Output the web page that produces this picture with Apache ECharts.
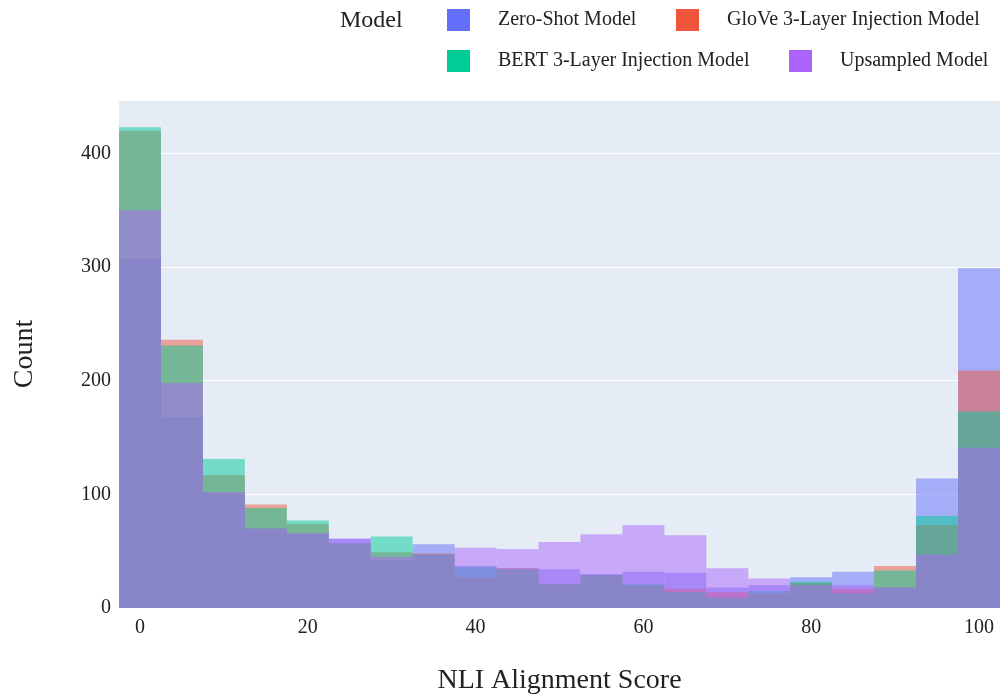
<!DOCTYPE html>
<html>
<head>
<meta charset="utf-8">
<script src="https://cdn.jsdelivr.net/npm/echarts@6/dist/echarts.min.js"></script>
<style>html,body{margin:0;padding:0;background:#fff;}#c{width:1000px;height:700px;}</style>
</head>
<body>
<div id="c"></div>
<script>
const categories = ['0','5','10','15','20','25','30','35','40','45','50','55','60','65','70','75','80','85','90','95','100'];
const zeroShot  = [307,168,101,70,65,61,42,56,37,35,34,30,32,31,18,20,27,32,18,114,299];
const glove     = [420,236,117,91,74,57,49,48,27,35,21,29,20,17,14,13,22,17,37,73,209];
const bert      = [423,231,131,88,77,57,63,47,36,34,21,29,21,14,9,15,23,13,33,81,173];
const upsampled = [350,198,102,70,66,61,45,47,53,52,58,65,73,64,35,26,20,20,18,47,141];
const seriesNames = ['Zero-Shot Model','GloVe 3-Layer Injection Model','BERT 3-Layer Injection Model','Upsampled Model'];
const seriesData = [zeroShot, glove, bert, upsampled];
const colors = ['99,110,250','239,85,59','0,204,150','171,99,250'];
const FONT = '"Liberation Serif", "Times New Roman", serif';
const TXT = '#222';

const legendPos = [[447,9],[676,9],[447,50],[789,50]];
const legends = seriesNames.map((n,i)=>({
  data:[n], left:legendPos[i][0], top:legendPos[i][1], padding:0,
  itemWidth:23, itemHeight:22, icon:'rect', selectedMode:false,
  itemStyle:{color:'rgb('+colors[i]+')', opacity:1},
  textStyle:{fontFamily:FONT, fontSize:20, color:TXT, padding:[0,0,0,23]}
}));

const chart = echarts.init(document.getElementById('c'));
chart.setOption({
  animation:false,
  title:{text:'Model', left:335, top:4, textStyle:{fontFamily:FONT, fontSize:24, fontWeight:'normal', color:TXT}},
  legend: legends,
  grid:{left:119, top:100, width:884, height:513, show:true, backgroundColor:'#E5ECF6', borderWidth:0, containLabel:false},
  xAxis:{
    type:'category', data:categories, boundaryGap:true,
    axisLine:{show:false}, axisTick:{show:false}, splitLine:{show:false},
    axisLabel:{interval:3, fontFamily:FONT, fontSize:20, color:TXT, margin:10},
    name:'NLI Alignment Score', nameLocation:'middle', nameGap:59,
    nameTextStyle:{fontFamily:FONT, fontSize:28, color:TXT}
  },
  yAxis:{
    type:'value', min:0, max:447, interval:100,
    axisLine:{show:false}, axisTick:{show:false},
    splitLine:{lineStyle:{color:'#fff', width:1}},
    axisLabel:{fontFamily:FONT, fontSize:20, color:TXT, margin:8, formatter:v=> (v%100===0? String(v):'')},
    name:'Count', nameLocation:'middle', nameGap:80, nameRotate:90,
    nameTextStyle:{fontFamily:FONT, fontSize:28, color:TXT}
  },
  series: seriesData.map((d,i)=>({
    name:seriesNames[i], type:'bar', data:d, barWidth:'100%', barGap:'-100%',
    itemStyle:{color:'rgba('+colors[i]+',0.5)'}
  }))
});
</script>
</body>
</html>
